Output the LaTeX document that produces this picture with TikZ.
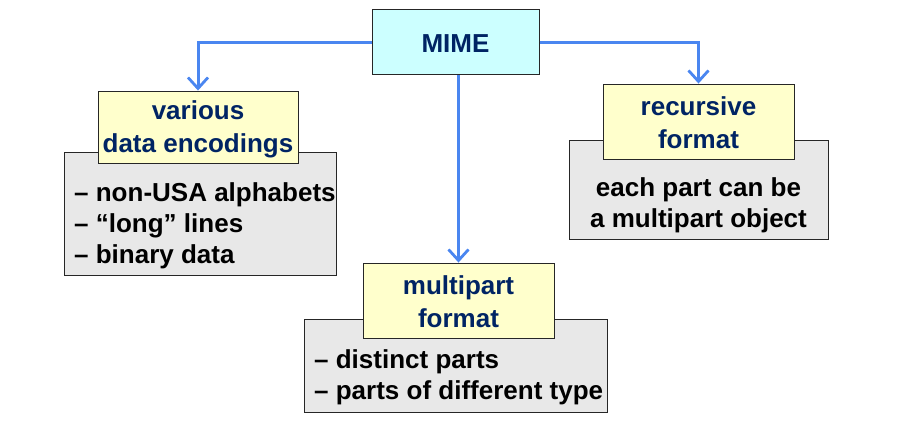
\documentclass[tikz,border=0pt]{standalone}
\usepackage{fontspec}
\setmainfont{Liberation Sans}
\usetikzlibrary{arrows.meta}
\definecolor{navytext}{RGB}{0,36,100}
\definecolor{linkblue}{RGB}{74,134,240}
\definecolor{boxcyan}{RGB}{204,255,255}
\definecolor{boxyellow}{RGB}{255,255,204}
\definecolor{boxgrey}{RGB}{232,232,232}
\tikzset{
  topicbox/.style={draw=black!85, line width=0.9pt, fill=boxyellow, inner sep=0pt},
  rootbox/.style={draw=black!85, line width=1pt, fill=boxcyan, inner sep=0pt},
  notebox/.style={draw=black!85, line width=0.9pt, fill=boxgrey, inner sep=0pt},
  titletext/.style={inner sep=0pt, text=navytext, align=center,
    font=\fontsize{26}{33}\selectfont\bfseries},
  bodytext/.style={inner sep=0pt, text=black,
    font=\fontsize{26}{31}\selectfont\bfseries},
  link/.style={draw=linkblue, line width=3pt,
    -{Straight Barb[length=11pt, width=20pt, line width=2.8pt]}}
}
\begin{document}
\begin{tikzpicture}[x=1pt, y=-1pt]
  \useasboundingbox (0,0) rectangle (904,427);

  % root
  \node[rootbox, minimum width=167pt, minimum height=65pt] (mime) at (455.5,42.5) {};
  \node[titletext] (mimet) at (455.5,44) {MIME};

  % left branch: encodings
  \node[notebox, minimum width=272pt, minimum height=123pt] (encn) at (200,213.5) {};
  \node[topicbox, minimum width=200pt, minimum height=72pt] (enc) at (198,127) {};
  \node[titletext] (enct) at (198,129) {various\\data encodings};
  \node[bodytext, anchor=west, align=left] (encb) at (74,226)
    {-- non-USA alphabets\\-- “long” lines\\-- binary data};

  % right branch: recursion
  \node[notebox, minimum width=259pt, minimum height=99pt] (recn) at (698.5,189.5) {};
  \node[topicbox, minimum width=191pt, minimum height=75pt] (rec) at (698.5,121.5) {};
  \node[titletext] (rect) at (698.5,123) {recursive\\format};
  \node[bodytext, align=center] (recb) at (698.5,205) {each part can be\\a multipart object};

  % middle branch: multipart
  \node[notebox, minimum width=303pt, minimum height=93pt] (mpn) at (455.5,365.5) {};
  \node[topicbox, minimum width=191pt, minimum height=75pt] (mp) at (458.5,300.5) {};
  \node[titletext] (mpt) at (458.5,302) {multipart\\format};
  \node[bodytext, anchor=west, align=left] (mpb) at (314,377)
    {-- distinct parts\\-- parts of different type};

  % connectors
  \draw[link] (mime.west) -| (enc.north);
  \draw[link] (mime.east) -| (rec.north);
  \draw[link] (mp.north |- mime.south) -- (mp.north);
\end{tikzpicture}
\end{document}
